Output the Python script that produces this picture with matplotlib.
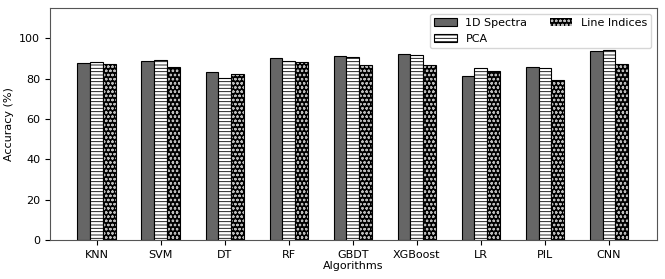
import matplotlib
matplotlib.use("Agg")
import matplotlib.pyplot as plt
import numpy as np

algorithms = ["KNN", "SVM", "DT", "RF", "GBDT", "XGBoost", "LR", "PIL", "CNN"]
spectra_1d = [87.8, 89.0, 83.5, 90.0, 91.0, 92.0, 81.5, 86.0, 93.5]
pca = [88.3, 89.5, 80.5, 89.0, 90.8, 91.5, 85.3, 85.2, 94.0]
line_indices = [87.3, 86.0, 82.5, 88.3, 87.0, 87.0, 84.0, 79.2, 87.2]

plt.rcParams['font.size'] = 8
plt.rcParams['hatch.linewidth'] = 0.6
fig = plt.figure(figsize=(6.65, 2.79), dpi=100)
ax = fig.add_axes([0.075, 0.140, 0.913, 0.831])

x = np.arange(len(algorithms))
w = 0.2
h1 = ax.bar(x - w, spectra_1d, w, color="#666666", edgecolor="black", linewidth=0.8, label="1D Spectra")
h2 = ax.bar(x, pca, w, color="white", edgecolor="black", hatch="-----", linewidth=0.8, label="PCA")
h3 = ax.bar(x + w, line_indices, w, color="black", edgecolor="#bbbbbb", hatch="oooo", linewidth=0, label="Line Indices")
ax.bar(x + w, line_indices, w, fill=False, edgecolor="black", linewidth=0.8)

ax.set_xticks(x)
ax.set_xticklabels(algorithms)
ax.set_xlim(-0.73, 8.75)
ax.set_ylim(0, 115)
ax.set_yticks([0, 20, 40, 60, 80, 100])
ax.set_ylabel("Accuracy (%)", labelpad=4)
ax.set_xlabel("Algorithms", labelpad=1)
for s in ax.spines.values():
    s.set_color("#555555")
ax.legend(handles=[h1, h2, h3], ncol=2, loc="upper right", fontsize=8)
fig.savefig("out.png", dpi=100)
